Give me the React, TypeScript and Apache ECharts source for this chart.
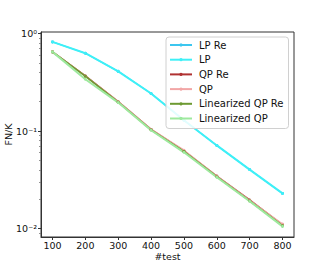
import React, { useEffect, useRef } from "react";
import * as echarts from "echarts";

const xValues = [100, 200, 300, 400, 500, 600, 700, 800];
const lpRe = [0.823, 0.63, 0.41, 0.243, 0.129, 0.0712, 0.0402, 0.0229];
const lp = [0.823, 0.63, 0.41, 0.243, 0.129, 0.0712, 0.0402, 0.0229];
const qpRe = [0.65, 0.368, 0.2, 0.104, 0.0625, 0.0345, 0.0196, 0.0109];
const qp = [0.65, 0.366, 0.2, 0.104, 0.0635, 0.0345, 0.0194, 0.0111];
const linQpRe = [0.65, 0.366, 0.198, 0.103, 0.0618, 0.034, 0.0192, 0.0107];
const linQp = [0.65, 0.34, 0.196, 0.102, 0.0605, 0.0335, 0.019, 0.0105];

const seriesNames = ["LP Re", "LP", "QP Re", "QP", "Linearized QP Re", "Linearized QP"];
const seriesValues = [lpRe, lp, qpRe, qp, linQpRe, linQp];
const seriesColors = ["#3cc6ef", "#3ef0f7", "#b03232", "#f2a6a6", "#6d9a32", "#9ee99e"];
const seriesWidths = [1.2, 2, 1.6, 1.6, 1.6, 2];

const xTickValues = [100, 200, 300, 400, 500, 600, 700, 800];
const yTickValues = [0.01, 0.1, 1];
const yTickLabels = ["10⁻²", "10⁻¹", "10⁰"];
const yMinorTicks = [
  0.009,
  0.02, 0.03, 0.04, 0.05, 0.06, 0.07, 0.08, 0.09,
  0.2, 0.3, 0.4, 0.5, 0.6, 0.7, 0.8, 0.9,
];

const FONT = "DejaVu Sans";
const Y_MIN = 0.00817;
const Y_MAX = 1.04;

export default function App() {
  const ref = useRef<HTMLDivElement>(null);
  useEffect(() => {
    document.body.style.margin = "0";
    if (!ref.current) return;
    const chart = echarts.init(ref.current, undefined, { renderer: "svg" });
    chart.setOption({
      animation: false,
      backgroundColor: "#fff",
      textStyle: { fontFamily: FONT },
      grid: {
        left: 41,
        top: 32,
        right: 33,
        bottom: 29,
        containLabel: false,
        outerBoundsMode: "none",
        show: true,
        borderColor: "#333",
        borderWidth: 1,
        backgroundColor: "transparent",
      },
      legend: {
        orient: "vertical",
        left: 166,
        top: 37,
        itemWidth: 22,
        itemHeight: 4,
        itemGap: 4.7,
        padding: [3, 5, 5, 3],
        backgroundColor: "rgba(255,255,255,0.85)",
        borderColor: "#d0d0d0",
        borderWidth: 1,
        borderRadius: 3,
        data: seriesNames,
        textStyle: {
          fontFamily: FONT,
          fontSize: 10,
          lineHeight: 10,
          color: "#111",
          padding: [0, 0, 0, 2],
        },
      },
      xAxis: {
        type: "value",
        min: 65,
        max: 835,
        name: "#test",
        nameLocation: "middle",
        nameGap: 14,
        nameMoveOverlap: false,
        nameTextStyle: { fontFamily: FONT, fontSize: 9.5, color: "#111" },
        axisLine: { show: true, lineStyle: { color: "#333", width: 1 } },
        axisTick: {
          show: true,
          inside: false,
          length: 3,
          lineStyle: { color: "#333" },
          customValues: xTickValues,
        },
        axisLabel: {
          fontFamily: FONT,
          fontSize: 9.5,
          color: "#111",
          margin: 3,
          customValues: xTickValues,
          formatter: (v: number) => String(v),
        },
        splitLine: { show: false },
      },
      yAxis: [
        {
          type: "log",
          logBase: 10,
          min: Y_MIN,
          max: Y_MAX,
          name: "FN/K",
          nameLocation: "middle",
          nameGap: 28,
          nameMoveOverlap: false,
          nameTextStyle: { fontFamily: FONT, fontSize: 9.5, color: "#111" },
          axisLine: { show: true, lineStyle: { color: "#333", width: 1 } },
          axisTick: {
            show: true,
            length: 3,
            lineStyle: { color: "#333" },
            customValues: yTickValues,
          },
          minorTick: { show: false },
          axisLabel: {
            fontFamily: FONT,
            fontSize: 9.5,
            color: "#111",
            margin: 4,
            customValues: yTickValues,
            formatter: (v: number) => {
              const i = yTickValues.findIndex((t) => Math.abs(t - v) / t < 1e-6);
              return i >= 0 ? yTickLabels[i] : "";
            },
          },
          splitLine: { show: false },
        },
        {
          type: "log",
          logBase: 10,
          min: Y_MIN,
          max: Y_MAX,
          position: "left",
          axisLine: { show: false },
          axisTick: {
            show: true,
            length: 2,
            lineStyle: { color: "#777", width: 0.8 },
            customValues: yMinorTicks,
          },
          axisLabel: { show: false },
          splitLine: { show: false },
        },
      ],
      series: seriesNames.map((name, i) => ({
        name,
        type: "line",
        yAxisIndex: 0,
        data: xValues.map((x, j) => [x, seriesValues[i][j]]),
        symbol: "circle",
        symbolSize: 3,
        showSymbol: true,
        color: seriesColors[i],
        lineStyle: { color: seriesColors[i], width: seriesWidths[i] },
        itemStyle: { color: seriesColors[i] },
        emphasis: { disabled: true },
      })),
    });
    return () => chart.dispose();
  }, []);
  return <div ref={ref} style={{ width: 327, height: 266 }} />;
}
